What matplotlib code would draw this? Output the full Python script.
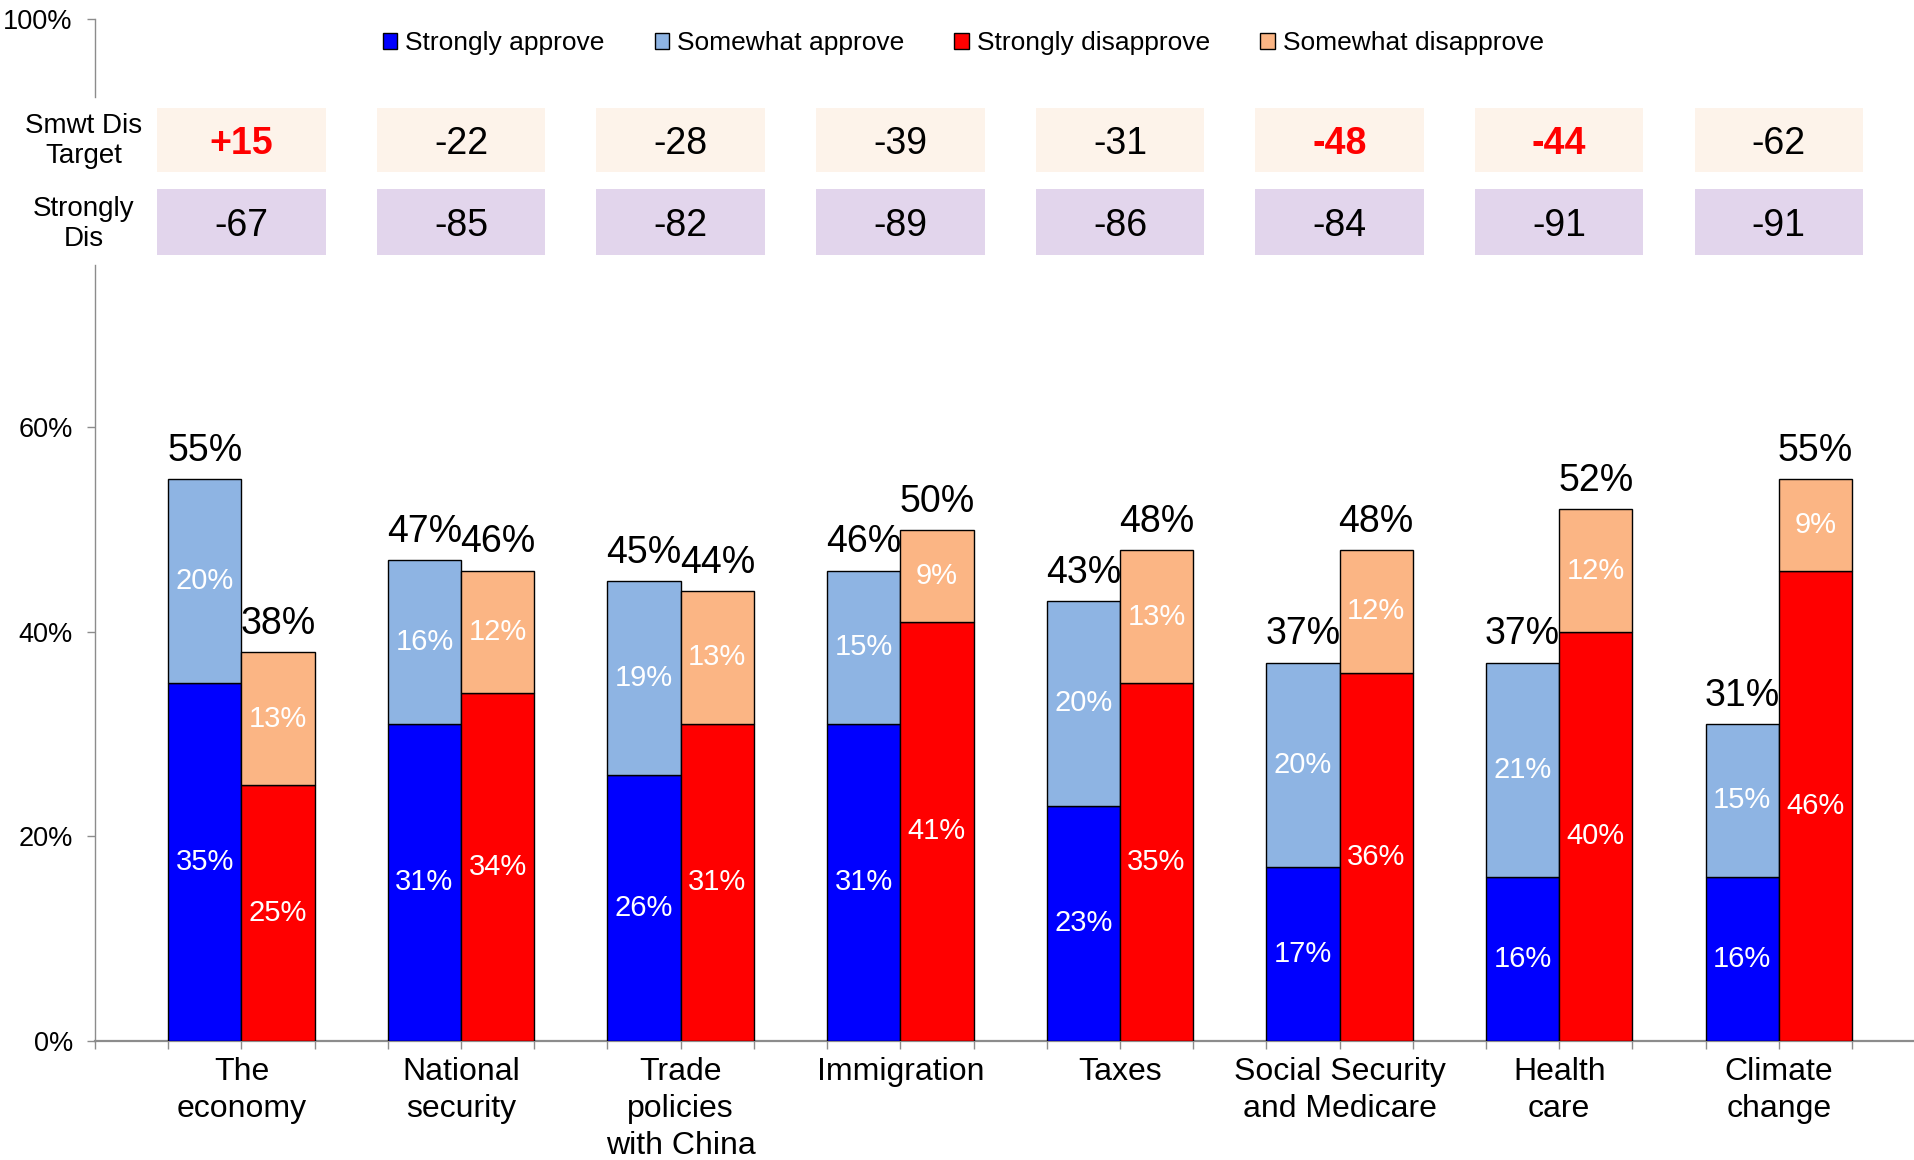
import matplotlib
matplotlib.use("Agg")
import matplotlib.pyplot as plt
from matplotlib.patches import Rectangle, Patch

plt.rcParams["font.family"] = ["Liberation Sans", "DejaVu Sans"]

categories = ["The\neconomy", "National\nsecurity", "Trade\npolicies\nwith China",
              "Immigration", "Taxes", "Social Security\nand Medicare",
              "Health\ncare", "Climate\nchange"]
strongly_approve = [35, 31, 26, 31, 23, 17, 16, 16]
somewhat_approve = [20, 16, 19, 15, 20, 20, 21, 15]
strongly_disapprove = [25, 34, 31, 41, 35, 36, 40, 46]
somewhat_disapprove = [13, 12, 13, 9, 13, 12, 12, 9]
smwt_dis_target = ["+15", "-22", "-28", "-39", "-31", "-48", "-44", "-62"]
target_highlight = [True, False, False, False, False, True, True, False]
strongly_dis = ["-67", "-85", "-82", "-89", "-86", "-84", "-91", "-91"]

C_SA, C_SWA = "#0000FF", "#8EB4E3"
C_SD, C_SWD = "#FF0000", "#FBB584"
GREY = "#8C8C8C"

fig = plt.figure(figsize=(19.15, 11.6), dpi=100)
ax = fig.add_axes([95 / 1915, 0.1029, 1 - 95 / 1915, 0.881])

n = len(categories)
xb = [3 * i + 1.5 for i in range(n)]
xr = [3 * i + 2.5 for i in range(n)]
kw = dict(width=1.0, edgecolor="black", linewidth=1.0, zorder=3)
ax.bar(xb, strongly_approve, color=C_SA, **kw)
ax.bar(xb, somewhat_approve, bottom=strongly_approve, color=C_SWA, **kw)
ax.bar(xr, strongly_disapprove, color=C_SD, **kw)
ax.bar(xr, somewhat_disapprove, bottom=strongly_disapprove, color=C_SWD, **kw)

for i in range(n):
    for x, lo, hi in [(xb[i], strongly_approve[i], somewhat_approve[i]),
                      (xr[i], strongly_disapprove[i], somewhat_disapprove[i])]:
        ax.text(x, lo / 2, f"{lo}%", color="white", fontsize=21, ha="center", va="center", zorder=4)
        ax.text(x, lo + hi / 2, f"{hi}%", color="white", fontsize=21, ha="center", va="center", zorder=4)
        ax.annotate(f"{lo + hi}%", (x, lo + hi), xytext=(0, 13), textcoords="offset points",
                    fontsize=27, ha="center", va="baseline", zorder=4)

# summary table above the bars
rows = [(85.0, 91.3, "#FDF3EA", smwt_dis_target), (76.9, 83.3, "#E2D5EC", strongly_dis)]
for r, (y0, y1, col, vals) in enumerate(rows):
    for i in range(n):
        cx = 3 * i + 2
        ax.add_patch(Rectangle((cx - 1.15, y0), 2.3, y1 - y0, facecolor=col, edgecolor="none", zorder=2))
        hl = r == 0 and target_highlight[i]
        ax.text(cx, (y0 + y1) / 2 - 0.4, vals[i], fontsize=27, ha="center", va="center",
                color="#FF0000" if hl else "black", fontweight="bold" if hl else "normal", zorder=4)
ax.text(-0.15, 88.0, "Smwt Dis\nTarget", fontsize=20, ha="center", va="center",
        linespacing=1.2, zorder=5, clip_on=False)
ax.text(-0.15, 79.9, "Strongly\nDis", fontsize=20, ha="center", va="center",
        linespacing=1.2, zorder=5, clip_on=False)

ax.set_xlim(0, 24.86)
ax.set_ylim(0, 100)
ax.set_yticks([0, 20, 40, 60, 100])
ax.set_yticklabels(["0%", "20%", "40%", "60%", "100%"])
ax.xaxis.remove_overlapping_locs = False
ax.set_xticks(range(0, 25))
ax.set_xticklabels([])
ax.set_xticks([3 * i + 2 for i in range(n)], minor=True)
ax.set_xticklabels(categories, minor=True)
ax.tick_params(axis="y", labelsize=19.5, length=6, color=GREY, width=1.0, pad=10)
ax.tick_params(axis="x", which="major", length=6, color=GREY, width=1.0)
ax.tick_params(axis="x", which="minor", length=0, labelsize=23, pad=12)
for lab in ax.get_xticklabels(minor=True):
    lab.set_linespacing(1.3)

for s in ["top", "right", "left"]:
    ax.spines[s].set_visible(False)
ax.spines["bottom"].set_color(GREY)
ax.spines["bottom"].set_linewidth(1.6)
# left axis line is broken where the table sits
ax.plot([0, 0], [0, 75.9], color=GREY, lw=1.0, clip_on=False, zorder=1)
ax.plot([0, 0], [92.3, 100], color=GREY, lw=1.0, clip_on=False, zorder=1)

handles = [Patch(facecolor=c, edgecolor="black", linewidth=1.0) for c in (C_SA, C_SWA, C_SD, C_SWD)]
labels = ["Strongly approve", "Somewhat approve", "Strongly disapprove", "Somewhat disapprove"]
ax.legend(handles, labels, loc="center", bbox_to_anchor=(0.477, 0.976), ncol=4, frameon=False,
          fontsize=19, handlelength=0.55, handleheight=0.55, handletextpad=0.3, columnspacing=1.9)

fig.savefig("out.png", dpi=100)
